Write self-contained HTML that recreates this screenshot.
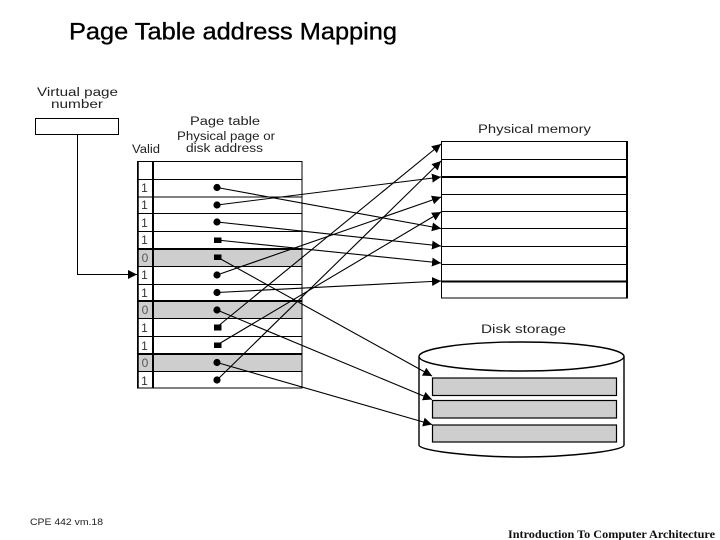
<!DOCTYPE html>
<html><head><meta charset="utf-8"><style>
html,body{margin:0;padding:0;background:#fff;width:720px;height:540px;overflow:hidden}
svg{display:block}
.d{font-family:"Liberation Sans",sans-serif;font-size:11.5px;fill:#222}
</style></head><body>
<svg width="720" height="540" viewBox="0 0 720 540" xmlns="http://www.w3.org/2000/svg">
<defs>
<marker id="a" markerUnits="userSpaceOnUse" markerWidth="11" markerHeight="11" refX="9" refY="5" orient="auto"><path d="M0 0.5L9 5L0 9.5Z" fill="#000"/></marker>
</defs>
<text x="69" y="39.5" font-family="Liberation Sans,sans-serif" font-size="24" fill="#000" stroke="#000" stroke-width="0.35" textLength="328" lengthAdjust="spacingAndGlyphs">Page Table address Mapping</text>

<text class="d" x="37" y="96" textLength="81" lengthAdjust="spacingAndGlyphs">Virtual page</text>
<text class="d" x="51" y="108" textLength="52" lengthAdjust="spacingAndGlyphs">number</text>
<rect x="35.5" y="118.5" width="83" height="16" fill="#fff" stroke="#000"/>
<path d="M77.5 135V274.5H137" fill="none" stroke="#000" marker-end="url(#a)"/>

<text class="d" x="190" y="125" textLength="70" lengthAdjust="spacingAndGlyphs">Page table</text>
<text class="d" x="177" y="140" textLength="98" lengthAdjust="spacingAndGlyphs">Physical page or</text>
<text class="d" x="186" y="152" textLength="77" lengthAdjust="spacingAndGlyphs">disk address</text>
<text class="d" x="132" y="153" textLength="28" lengthAdjust="spacingAndGlyphs">Valid</text>

<g fill="#cecece">
<rect x="138" y="249" width="164" height="17"/>
<rect x="138" y="301" width="164" height="17"/>
<rect x="138" y="354" width="164" height="17"/>
</g>
<g stroke="#000" fill="none">
<path d="M137.5 179.5H302M137.5 197H302M137.5 213.5H302M137.5 231.5H302M137.5 266.5H302M137.5 284.5H302M137.5 318.5H302M137.5 336.5H302M137.5 371.5H302"/>
<path stroke-width="2" d="M137.5 249H302M137.5 301H302M137.5 354H302"/>
<rect x="137.5" y="161.5" width="164.5" height="226.5"/>
<path stroke-width="2" d="M153 161.5V388"/>
<path stroke-width="1.5" d="M138 161.5V388"/>
</g>
<g font-family="Liberation Sans,sans-serif" font-size="12" fill="#333" text-anchor="middle">
<text x="144.5" y="192">1</text><text x="144.5" y="209">1</text><text x="144.5" y="227">1</text><text x="144.5" y="244">1</text>
<text x="145" y="262" fill="#555">0</text><text x="144.5" y="279">1</text><text x="144.5" y="297">1</text>
<text x="145" y="314" fill="#555">0</text><text x="144.5" y="332">1</text><text x="144.5" y="350">1</text>
<text x="145" y="367" fill="#555">0</text><text x="144.5" y="385">1</text>
</g>

<g fill="#000">
<circle cx="217" cy="187.5" r="3.6"/><circle cx="217" cy="205" r="3.6"/><circle cx="217" cy="222" r="3.6"/>
<rect x="214" y="237.5" width="7.5" height="5.5"/><rect x="214" y="254.5" width="7.5" height="5.5"/>
<circle cx="217" cy="275" r="3.6"/><circle cx="217" cy="292.5" r="3.6"/><circle cx="217" cy="310" r="3.6"/>
<rect x="214" y="324.5" width="7.5" height="6"/><rect x="214" y="342.5" width="7.5" height="5.5"/>
<circle cx="217" cy="362.5" r="3.6"/><circle cx="217" cy="380" r="3.6"/>
</g>

<text class="d" x="478" y="133" textLength="113" lengthAdjust="spacingAndGlyphs">Physical memory</text>
<g stroke="#000" fill="none">
<path d="M441.5 159.5H627M441.5 194.5H627M441.5 211.5H627M441.5 228.5H627M441.5 246.5H627M441.5 264.5H627"/>
<path stroke-width="2" d="M441.5 177H627M441.5 281.5H627"/>
<path d="M627 141.5H441.5V298H627"/>
<path stroke-width="2" d="M627 141V298.5"/>
</g>

<text class="d" x="481" y="333" textLength="85" lengthAdjust="spacingAndGlyphs">Disk storage</text>
<g stroke="#000" fill="#fff">
<path d="M419 356.5V445C419 451 475 457 521.5 457C568 457 624 451 624 445V356.5" stroke-width="1.4"/>
<ellipse cx="521.5" cy="356.5" rx="102.5" ry="14.5" stroke-width="1.4"/>
</g>
<g fill="#cecece" stroke="#000">
<rect x="432.5" y="378" width="184" height="17.5" stroke-width="1.2"/>
<rect x="432.5" y="400.5" width="184" height="17.5" stroke-width="1.2"/>
<rect x="432.5" y="425" width="184" height="17" stroke-width="1.2"/>
</g>

<g stroke="#000" fill="none" stroke-width="1.1">
<path d="M217 187.5L441 228.5" marker-end="url(#a)"/>
<path d="M217 205L441 177" marker-end="url(#a)"/>
<path d="M217 222L441 246" marker-end="url(#a)"/>
<path d="M217 240L441 263" marker-end="url(#a)"/>
<path d="M217 257L432 376" marker-end="url(#a)"/>
<path d="M217 275L441 197" marker-end="url(#a)"/>
<path d="M217 292.5L441 281" marker-end="url(#a)"/>
<path d="M217 310L432 399.5" marker-end="url(#a)"/>
<path d="M217 327L441 144" marker-end="url(#a)"/>
<path d="M217 345L441 212" marker-end="url(#a)"/>
<path d="M217 362.5L432 424.5" marker-end="url(#a)"/>
<path d="M217 380L441 161" marker-end="url(#a)"/>
</g>

<text x="30" y="525" font-family="Liberation Sans,sans-serif" font-size="9.5" fill="#222" textLength="73" lengthAdjust="spacingAndGlyphs">CPE 442  vm.18</text>
<text x="508" y="538" font-family="Liberation Serif,serif" font-size="12" font-weight="bold" fill="#111" textLength="207" lengthAdjust="spacingAndGlyphs">Introduction To Computer Architecture</text>
</svg>
</body></html>
